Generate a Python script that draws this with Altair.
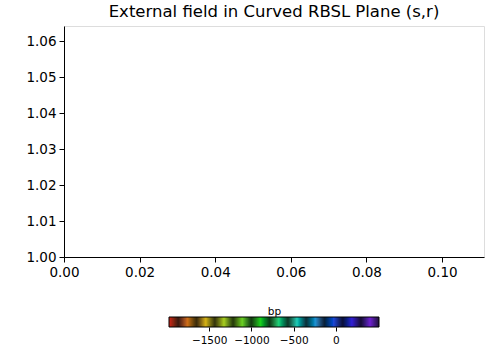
import altair as alt
import pandas as pd

title = "External field in Curved RBSL Plane (s,r)"
x_domain = [0.0, 0.1111]
y_domain = [1.0, 1.06417]
x_ticks = [0.0, 0.02, 0.04, 0.06, 0.08, 0.10]
y_ticks = [1.00, 1.01, 1.02, 1.03, 1.04, 1.05, 1.06]
bp_domain = [-1975, 510]
bp_ticks = [-1500, -1000, -500, 0]
bar_colors = [
    "#d42418", "#3a1a10", "#d0701a", "#3a2a0c", "#d6b416", "#34340c",
    "#a8d020", "#263a0c", "#6cd424", "#143a10", "#1cd41c", "#0c3a16",
    "#1cd47c", "#0c3a2a", "#20cdb8", "#0c3038", "#2094d4", "#0c2038",
    "#2048d8", "#0c1038", "#3420d8", "#180c38", "#7020d0", "#20103a",
]

font = "DejaVu Sans"

frame_df = pd.DataFrame({"s": [x_domain[0]], "r": [y_domain[0]]})
cb_frame_df = pd.DataFrame({"lo": [bp_domain[0]], "hi": [bp_domain[1]]})

cb_x_scale = alt.Scale(domain=bp_domain, range=[105, 315], nice=False, zero=False)
cb_axis = alt.Axis(values=bp_ticks, format="d", title="bp", grid=False, offset=70,
                   orient="bottom", domain=False, labelFontSize=10.5, tickSize=4,
                   labelPadding=4, tickColor="black", labelColor="black", labelFont=font,
                   titleFont=font, titleFontSize=10.5, titleFontWeight="normal",
                   titleColor="black", titleY=-11, titleBaseline="bottom",
                   labelFlush=False)

plot = alt.Chart(frame_df).mark_point(opacity=0).encode(
    x=alt.X("s:Q", scale=alt.Scale(domain=x_domain, nice=False, zero=False),
            axis=alt.Axis(values=x_ticks, format=".2f", title=None, grid=False,
                          orient="bottom",
                          labelFontSize=13.5, tickSize=5, labelPadding=3,
                          domainColor="black", tickColor="black", labelColor="black",
                          labelFont=font, labelFlush=False)),
    y=alt.Y("r:Q", scale=alt.Scale(domain=y_domain, nice=False, zero=False),
            axis=alt.Axis(values=y_ticks, format=".2f", title=None, grid=False,
                          labelFontSize=13.5, tickSize=5, labelPadding=3,
                          domainColor="black", tickColor="black", labelColor="black",
                          labelFont=font, labelFlush=False)),
)

cbar = alt.Chart(alt.sequence(bp_domain[0], bp_domain[1], 5, as_="bp")).transform_calculate(
    bp2="min(datum.bp + 25, %d)" % bp_domain[1]
).mark_rect(strokeWidth=0, opacity=1).encode(
    x=alt.X("bp:Q", scale=cb_x_scale, axis=cb_axis),
    x2="bp2:Q",
    y=alt.value(291),
    y2=alt.value(301),
    color=alt.Color("bp:Q", scale=alt.Scale(domain=bp_domain, range=bar_colors, nice=False, zero=False),
                    legend=None),
)

cbar_frame = alt.Chart(cb_frame_df).mark_rect(fill=None, stroke="black", strokeWidth=1).encode(
    x=alt.X("lo:Q", scale=cb_x_scale, axis=cb_axis),
    x2="hi:Q",
    y=alt.value(291),
    y2=alt.value(301),
)

chart = alt.layer(plot, alt.layer(cbar, cbar_frame)).resolve_scale(
    x="independent"
).properties(
    width=420, height=231,
    title=alt.TitleParams(title, fontSize=16.5, font=font, fontWeight="normal",
                          color="black", anchor="middle", offset=6),
    autosize=alt.AutoSizeParams(type="none"),
    padding={"left": 64, "top": 26, "right": 16, "bottom": 94},
).configure_view(stroke="black", strokeWidth=1).configure(background="white")

chart.save("out.html", embed_options={"renderer": "svg", "actions": False})
